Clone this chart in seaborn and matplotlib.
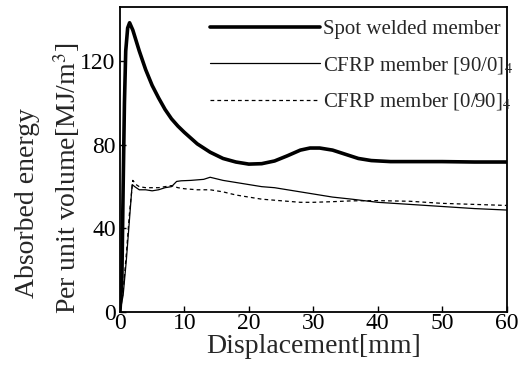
import numpy as np
import pandas as pd
import matplotlib
matplotlib.use('Agg')
import matplotlib.pyplot as plt
import seaborn as sns

# Spot welded member
sw_x = [0, 0.3, 0.5, 0.7, 0.9, 1.2, 1.5, 2, 3, 4, 5, 6, 7, 8, 9, 10, 12, 14, 16, 18, 20, 22,
        24, 26, 28, 29.5, 31, 33, 35, 37, 39, 42, 50, 55, 60]
sw_y = [0, 15, 60, 100, 125, 136, 138.5, 135, 125, 116, 108.5, 102.5, 97, 92.5, 89, 86, 80.5,
        76.5, 73.5, 71.8, 70.8, 71, 72.3, 74.8, 77.5, 78.5, 78.5, 77.5, 75.5, 73.5, 72.5, 72,
        72, 71.8, 71.8]

# CFRP member [90/0]4
c1_x = [0, 0.5, 1.0, 1.5, 1.9, 2.3, 3, 4, 5, 6, 7, 8, 8.8, 9.5, 11, 13, 14, 16, 18, 20, 22,
        24, 26, 28, 30, 33, 36, 40, 45, 50, 55, 60]
c1_y = [0, 8, 25, 45, 61, 60, 58.5, 58.5, 58, 58.5, 59.5, 60, 62.5, 62.8, 63, 63.5, 64.5, 63,
        62, 61, 60, 59.5, 58.5, 57.5, 56.5, 55, 54, 52.5, 51.5, 50.5, 49.5, 48.8]

# CFRP member [0/90]4
c2_x = [0, 0.5, 1.0, 1.5, 2.0, 2.5, 3, 4, 5, 6, 7, 8, 9, 10, 12, 14, 16, 18, 20, 22, 24, 26,
        28, 30, 33, 36, 40, 45, 50, 55, 60]
c2_y = [0, 10, 28, 48, 63, 61, 60, 59.5, 59.5, 59.5, 60, 60.5, 59.5, 59, 58.5, 58.5, 57.5, 56,
        55, 54, 53.5, 53, 52.5, 52.5, 52.8, 53.2, 53.3, 53, 52, 51.5, 51]

labels = ["Spot welded member", "CFRP member [90/0]$_4$", "CFRP member [0/90]$_4$"]

sns.set_theme(style='ticks')
plt.rcParams['font.family'] = ['Liberation Serif', 'DejaVu Serif']
plt.rcParams['mathtext.fontset'] = 'stix'

fig = plt.figure(figsize=(5.26, 3.74), dpi=100)
ax = fig.add_axes([0.228, 0.166, 0.735, 0.815])

sns.lineplot(x=sw_x, y=sw_y, ax=ax, color='black', lw=2.6, label=labels[0], sort=False)
sns.lineplot(x=c1_x, y=c1_y, ax=ax, color='black', lw=0.9, label=labels[1], sort=False)
sns.lineplot(x=c2_x, y=c2_y, ax=ax, color='black', lw=0.9, linestyle=(0, (3, 2.5)),
             label=labels[2], sort=False)

ax.set_xlim(0, 60)
ax.set_ylim(0, 146)
ax.set_xticks(np.arange(0, 61, 10))
ax.set_yticks([0, 40, 80, 120])
ax.tick_params(axis='both', direction='in', length=4, width=1, labelsize=17, colors='black')
ax.tick_params(axis='x', pad=1)
ax.tick_params(axis='y', pad=3)
for s in ax.spines.values():
    s.set_visible(True)
    s.set_linewidth(1.3)
    s.set_color('black')

ax.set_xlabel("Displacement[mm]", fontsize=20, labelpad=0)
ax.set_ylabel("")
fig.text(0.053, 0.457, "Absorbed energy", rotation=90, fontsize=20, ha='center', va='center')
fig.text(0.127, 0.524, "Per unit volume[MJ/m$^3$]", rotation=90, fontsize=20,
         ha='center', va='center')

leg = ax.legend(loc='upper left', bbox_to_anchor=(0.2, 1.0), frameon=False, fontsize=15,
                handlelength=5.3, handletextpad=0.15, labelspacing=0.75, borderaxespad=0.2)

fig.savefig('out.png', dpi=100)
